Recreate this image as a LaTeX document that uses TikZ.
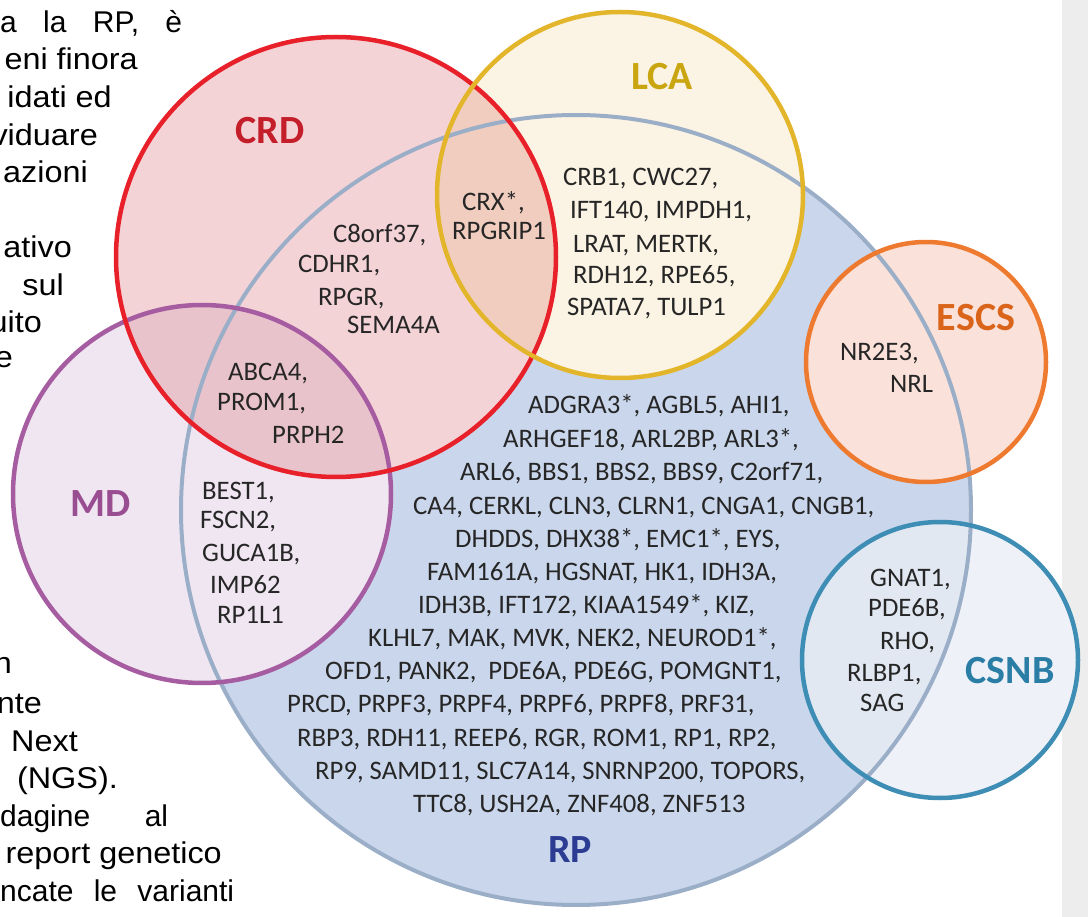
\documentclass[tikz,border=0pt]{standalone}
\usepackage{fontspec}
\setmainfont{Carlito}
\newfontfamily\parafont{Liberation Sans}
\definecolor{rpfill}{HTML}{C9D6EB}
\definecolor{rpline}{HTML}{9BAEC8}
\definecolor{crdfill}{HTML}{F4D3D7}
\definecolor{crdline}{HTML}{E8202A}
\definecolor{lcafill}{HTML}{FBF3E3}
\definecolor{lcaline}{HTML}{E2B52A}
\definecolor{crdlca}{HTML}{F0CDBE}
\definecolor{mdfill}{HTML}{F0E6F1}
\definecolor{mdline}{HTML}{A65CA0}
\definecolor{mdcrd}{HTML}{E9C3CC}
\definecolor{escsfill}{HTML}{FAE2DA}
\definecolor{escsline}{HTML}{EE7A30}
\definecolor{csnbfill}{HTML}{EEF1F7}
\definecolor{csnbrp}{HTML}{E2E8F2}
\definecolor{csnbline}{HTML}{3E8DB5}
\definecolor{genetxt}{HTML}{262626}
\definecolor{crdtxt}{HTML}{C41E2A}
\definecolor{lcatxt}{HTML}{C9A610}
\definecolor{escstxt}{HTML}{D9641A}
\definecolor{mdtxt}{HTML}{9A4E92}
\definecolor{csnbtxt}{HTML}{2A7EA6}
\definecolor{rptxt}{HTML}{2C3C93}
\definecolor{edgegray}{HTML}{EDEDED}
\tikzset{
  gene/.style={font=\fontsize{26.7}{32}\selectfont, text=genetxt, inner sep=0pt, anchor=west, text height=17pt, text depth=5pt},
  ttl/.style={font=\fontsize{40}{40}\selectfont\bfseries, inner sep=0pt},
  para/.style={font=\parafont\fontsize{30}{35}\selectfont, text=black, inner sep=0pt, text height=22pt, text depth=6pt},
  ring/.style={line width=4.5pt},
}
\newcommand{\sx}[1]{\scalebox{1.08}[1]{#1}}
\begin{document}
\begin{tikzpicture}[x=1pt,y=-1pt]
\useasboundingbox (0,0) rectangle (1088,917);
\fill[white] (0,0) rectangle (1088,917);
\fill[edgegray] (1062,0) rectangle (1088,917);
% fills
\fill[rpfill] (576,510) circle[radius=395pt];
\fill[crdfill] (336,257) circle[radius=220pt];
\fill[lcafill] (620,195) circle[radius=183pt];
\fill[mdfill] (202,494) circle[radius=189pt];
\fill[escsfill] (926,362) circle[radius=120pt];
\fill[csnbfill] (940,660) circle[radius=138pt];
\begin{scope}
  \clip (336,257) circle[radius=220pt];
  \fill[crdlca] (620,195) circle[radius=183pt];
  \fill[mdcrd] (202,494) circle[radius=189pt];
\end{scope}
\begin{scope}
  \clip (576,510) circle[radius=395pt];
  \fill[csnbrp] (940,660) circle[radius=138pt];
\end{scope}
% outlines
\draw[rpline, line width=4pt] (576,510) circle[radius=395pt];
\draw[mdline, ring] (202,494) circle[radius=189pt];
\draw[crdline, ring] (336,257) circle[radius=220pt];
\draw[lcaline, ring] (620,195) circle[radius=183pt];
\draw[escsline, ring] (926,362) circle[radius=120pt];
\draw[csnbline, ring] (940,660) circle[radius=138pt];
% titles
\node[ttl, text=crdtxt] (tcrd) at (270,131) {CRD};
\node[ttl, text=lcatxt] (tlca) at (662,77) {LCA};
\node[ttl, text=escstxt] (tescs) at (976,318) {ESCS};
\node[ttl, text=mdtxt] (tmd) at (101,504) {MD};
\node[ttl, text=csnbtxt] (tcsnb) at (1010,671) {CSNB};
\node[ttl, text=rptxt] (trp) at (570,850) {RP};
% CRD & LCA & RP
\node[gene] (g1) at (462,205) {CRX*,};
\node[gene] (g2) at (452,234) {RPGRIP1};
% CRD & RP
\node[gene] (g3) at (333,237) {C8orf37,};
\node[gene] (g4) at (298,267) {CDHR1,};
\node[gene] (g5) at (318,300) {RPGR,};
\node[gene] (g6) at (347,328) {SEMA4A};
% LCA & RP
\node[gene] (g7) at (563,180) {CRB1, CWC27,};
\node[gene] (g8) at (570,213) {IFT140, IMPDH1,};
\node[gene] (g9) at (573,247) {LRAT, MERTK,};
\node[gene] (g10) at (573,278) {RDH12, RPE65,};
\node[gene] (g11) at (567,310) {SPATA7, TULP1};
% ESCS & RP
\node[gene] (g12) at (840,355) {NR2E3,};
\node[gene] (g13) at (890,387) {NRL};
% MD & CRD & RP
\node[gene] (g14) at (228,375) {ABCA4,};
\node[gene] (g15) at (217,405) {PROM1,};
\node[gene] (g16) at (272,438) {PRPH2};
% MD & RP
\node[gene] (g17) at (202,493) {BEST1,};
\node[gene] (g18) at (200,522) {FSCN2,};
\node[gene] (g19) at (202,555) {GUCA1B,};
\node[gene] (g20) at (210,587) {IMP62};
\node[gene] (g21) at (217,617) {RP1L1};
% CSNB & RP
\node[gene] (g22) at (870,580) {GNAT1,};
\node[gene] (g23) at (868,610) {PDE6B,};
\node[gene] (g24) at (880,643) {RHO,};
\node[gene] (g25) at (847,675) {RLBP1,};
\node[gene] (g26) at (860,705) {SAG};
% RP only
\node[gene] (rp1) at (528,408) {ADGRA3*, AGBL5, AHI1,};
\node[gene] (rp2) at (503,441) {ARHGEF18, ARL2BP, ARL3*,};
\node[gene] (rp3) at (460,475) {ARL6, BBS1, BBS2, BBS9, C2orf71,};
\node[gene] (rp4) at (413,508) {CA4, CERKL, CLN3, CLRN1, CNGA1, CNGB1,};
\node[gene] (rp5) at (455,541) {DHDDS, DHX38*, EMC1*, EYS,};
\node[gene] (rp6) at (427,574) {FAM161A, HGSNAT, HK1, IDH3A,};
\node[gene] (rp7) at (418,607) {IDH3B, IFT172, KIAA1549*, KIZ,};
\node[gene] (rp8) at (368,640) {KLHL7, MAK, MVK, NEK2, NEUROD1*,};
\node[gene] (rp9) at (325,673) {OFD1, PANK2, \ PDE6A, PDE6G, POMGNT1,};
\node[gene] (rp10) at (287,706) {PRCD, PRPF3, PRPF4, PRPF6, PRPF8, PRF31,};
\node[gene] (rp11) at (297,740) {RBP3, RDH11, REEP6, RGR, ROM1, RP1, RP2,};
\node[gene] (rp12) at (315,773) {RP9, SAMD11, SLC7A14, SNRNP200, TOPORS,};
\node[gene] (rp13) at (413,806) {TTC8, USH2A, ZNF408, ZNF513};
% cut-off page text on the left
\node[para, anchor=west] (p1) at (0,25) {\makebox[182pt][s]{a la RP, è}};
\node[para, anchor=east] (p2) at (138,62) {\sx{eni finora}};
\node[para, anchor=east] (p3) at (112,100) {\sx{idati ed}};
\node[para, anchor=east] (p4) at (98,138) {\sx{viduare}};
\node[para, anchor=east] (p5) at (88,175) {\sx{azioni}};
\node[para, anchor=east] (p6) at (72,250) {\sx{ativo}};
\node[para, anchor=east] (p7) at (64,288) {\sx{sul}};
\node[para, anchor=east] (p8) at (42,325) {\sx{uito}};
\node[para, anchor=east] (p9) at (13,360) {\sx{e}};
\node[para, anchor=east] (p10) at (12,665) {\sx{n}};
\node[para, anchor=east] (p11) at (42,705) {\sx{nte}};
\node[para, anchor=east] (p12) at (78,743) {\sx{Next}};
\node[para, anchor=east] (p13) at (118,780) {\sx{(NGS).}};
\node[para, anchor=west] (p14) at (0,818) {\makebox[168pt][s]{dagine al}};
\node[para, anchor=east] (p15) at (222,855) {\sx{report genetico}};
\node[para, anchor=west] (p16) at (0,893) {\makebox[234pt][s]{ncate le varianti}};
\end{tikzpicture}
\end{document}
